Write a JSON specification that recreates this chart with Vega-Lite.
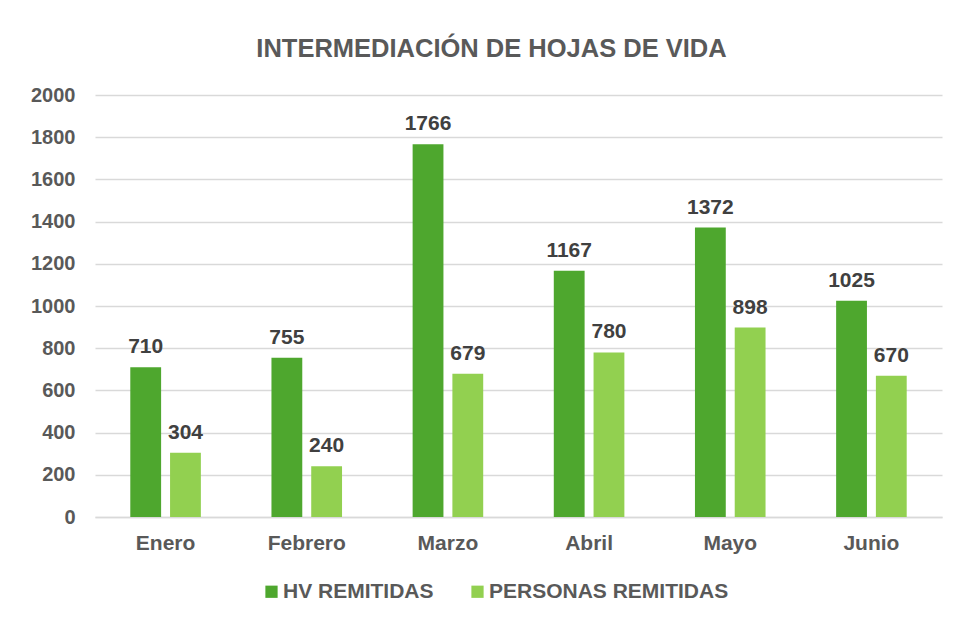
{
  "$schema": "https://vega.github.io/schema/vega-lite/v6.json",
  "width": 847,
  "height": 422,
  "autosize": {"type": "none"},
  "padding": {"left": 95, "top": 95, "right": 14, "bottom": 105},
  "background": "white",
  "title": {
    "text": "INTERMEDIACIÓN DE HOJAS DE VIDA",
    "anchor": "middle",
    "font": "Liberation Sans",
    "fontSize": 25.5,
    "fontWeight": "bold",
    "color": "#595959",
    "offset": 23,
    "dx": -27
  },
  "data": {
    "values": [
      {"mes": "Enero", "serie": "HV REMITIDAS", "valor": 710},
      {"mes": "Enero", "serie": "PERSONAS REMITIDAS", "valor": 304},
      {"mes": "Febrero", "serie": "HV REMITIDAS", "valor": 755},
      {"mes": "Febrero", "serie": "PERSONAS REMITIDAS", "valor": 240},
      {"mes": "Marzo", "serie": "HV REMITIDAS", "valor": 1766},
      {"mes": "Marzo", "serie": "PERSONAS REMITIDAS", "valor": 679},
      {"mes": "Abril", "serie": "HV REMITIDAS", "valor": 1167},
      {"mes": "Abril", "serie": "PERSONAS REMITIDAS", "valor": 780},
      {"mes": "Mayo", "serie": "HV REMITIDAS", "valor": 1372},
      {"mes": "Mayo", "serie": "PERSONAS REMITIDAS", "valor": 898},
      {"mes": "Junio", "serie": "HV REMITIDAS", "valor": 1025},
      {"mes": "Junio", "serie": "PERSONAS REMITIDAS", "valor": 670}
    ]
  },
  "encoding": {
    "x": {
      "field": "mes",
      "type": "nominal",
      "sort": ["Enero", "Febrero", "Marzo", "Abril", "Mayo", "Junio"],
      "scale": {"paddingInner": 0.5, "paddingOuter": 0.25},
      "axis": {
        "title": null,
        "labelAngle": 0,
        "ticks": false,
        "domain": true,
        "domainColor": "#d9d9d9",
        "domainWidth": 1.5,
        "labelFont": "Liberation Sans",
        "labelFontSize": 21,
        "labelFontWeight": "bold",
        "labelColor": "#595959",
        "labelPadding": 15
      }
    },
    "xOffset": {
      "field": "serie",
      "type": "nominal",
      "scale": {"paddingInner": 0.225, "paddingOuter": 0}
    },
    "y": {
      "field": "valor",
      "type": "quantitative",
      "scale": {"domain": [0, 2000]},
      "axis": {
        "title": null,
        "format": "d",
        "values": [0, 200, 400, 600, 800, 1000, 1200, 1400, 1600, 1800, 2000],
        "domain": false,
        "ticks": false,
        "grid": true,
        "gridColor": "#d9d9d9",
        "gridWidth": 1.5,
        "labelFont": "Liberation Sans",
        "labelFontSize": 20,
        "labelFontWeight": "bold",
        "labelColor": "#595959",
        "labelPadding": 20
      }
    }
  },
  "layer": [
    {
      "mark": {"type": "bar"},
      "encoding": {
        "color": {
          "field": "serie",
          "type": "nominal",
          "scale": {
            "domain": ["HV REMITIDAS", "PERSONAS REMITIDAS"],
            "range": ["#4ea72e", "#92d050"]
          },
          "legend": {
            "title": null,
            "orient": "none",
            "direction": "horizontal",
            "legendX": 166,
            "legendY": 486,
            "symbolType": "square",
            "symbolSize": 150,
            "symbolStrokeWidth": 0,
            "labelFont": "Liberation Sans",
            "labelFontSize": 21,
            "labelFontWeight": "bold",
            "labelColor": "#595959",
            "labelOffset": 1,
            "labelLimit": 400,
            "columnPadding": 33
          }
        }
      }
    },
    {
      "mark": {
        "type": "text",
        "baseline": "alphabetic",
        "dy": -14,
        "font": "Liberation Sans",
        "fontSize": 21,
        "fontWeight": "bold",
        "color": "#404040"
      },
      "encoding": {
        "text": {"field": "valor", "type": "quantitative"}
      }
    }
  ],
  "config": {"view": {"stroke": null}}
}
